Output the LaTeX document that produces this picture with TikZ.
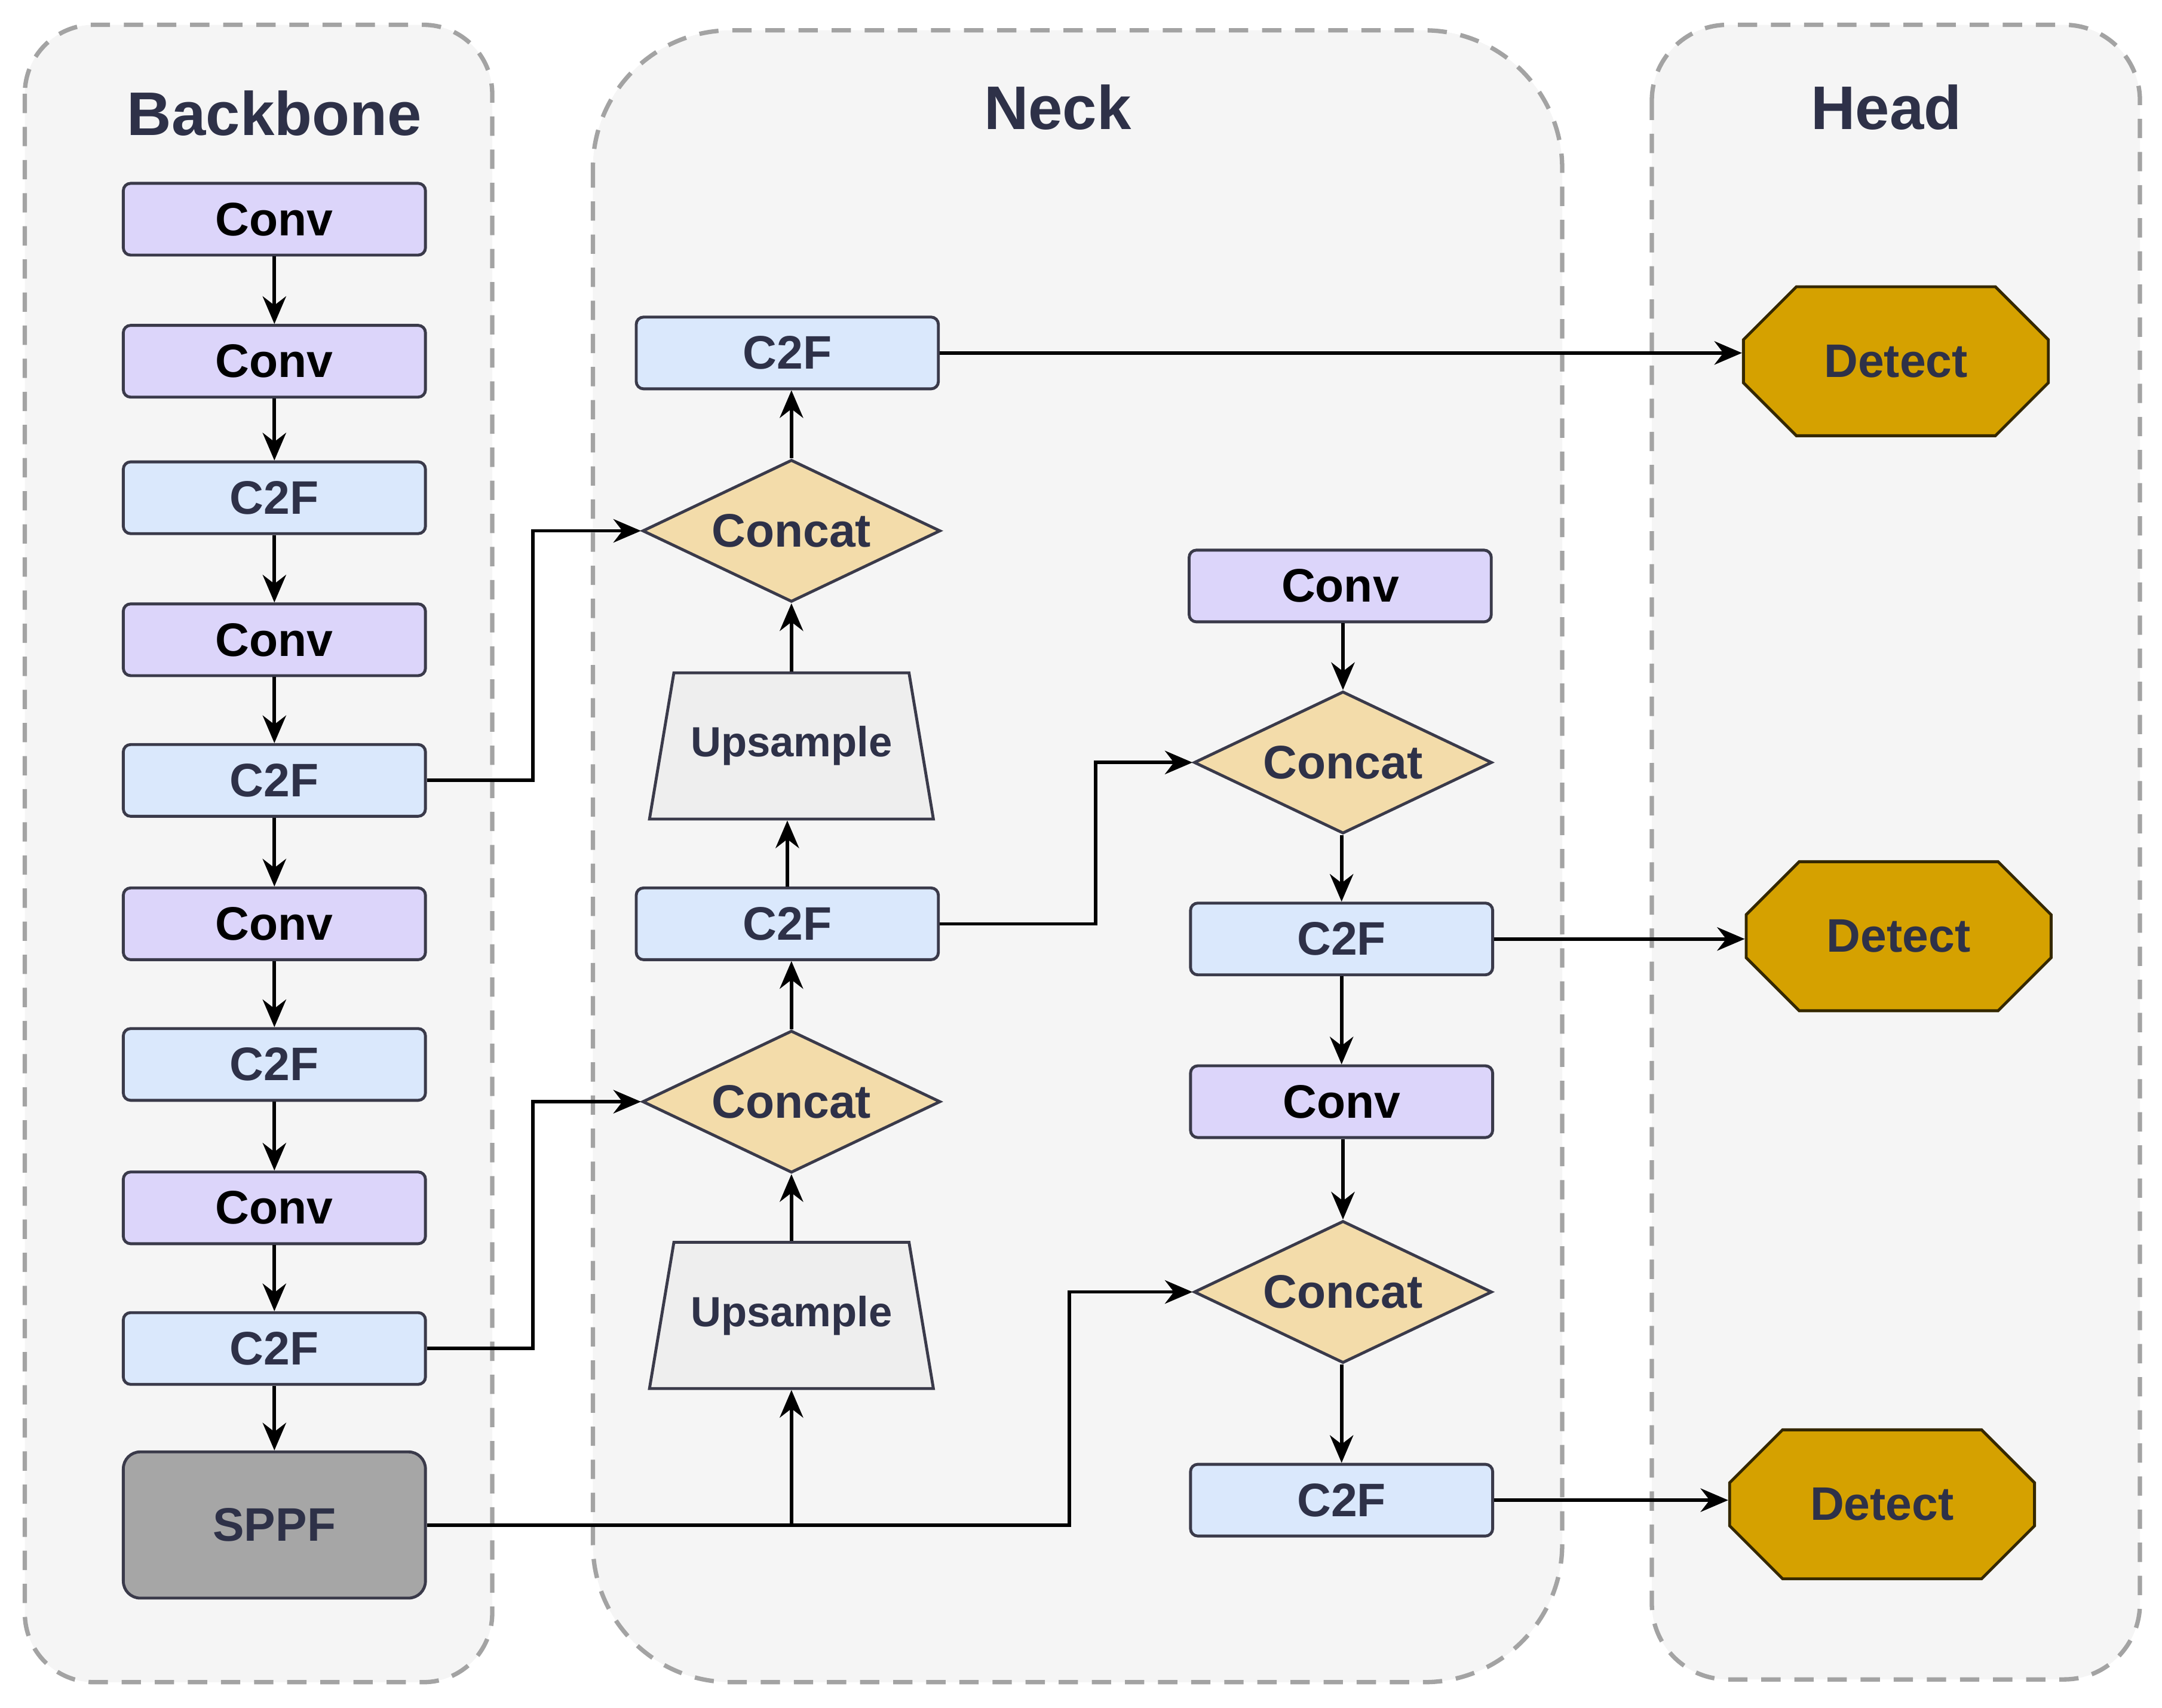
\documentclass[tikz,border=0pt]{standalone}
\usepackage{fontspec}
\setmainfont{Liberation Sans}
\usetikzlibrary{shapes.geometric,shapes.misc,arrows.meta}
\definecolor{pnlfill}{HTML}{F5F5F5}
\definecolor{pnldraw}{HTML}{A3A3A3}
\definecolor{convfill}{HTML}{DCD5FA}
\definecolor{cffill}{HTML}{DAE8FC}
\definecolor{catfill}{HTML}{F3DCAA}
\definecolor{upfill}{HTML}{EEEEEE}
\definecolor{sppffill}{HTML}{A6A6A6}
\definecolor{detfill}{HTML}{D5A100}
\definecolor{edge}{HTML}{3A3A4A}
\definecolor{txt}{HTML}{2E3148}
\newcommand{\pnl}[5]{
\draw[pnl,rounded corners=#5] (#1,#2) rectangle (#3,#4);}
\tikzset{
pnl/.style={fill=pnlfill,draw=pnldraw,line width=0.9pt,dash pattern=on 0.14cm off 0.1cm},
blk/.style={draw=edge,line width=0.6pt,text=txt,inner sep=0pt,font=\bfseries\fontsize{9.7}{11}\selectfont},
conv/.style={blk,fill=convfill,text=black,rounded corners=1.5pt,minimum width=2.19cm,minimum height=0.52cm},
cf/.style={blk,fill=cffill,rounded corners=1.5pt,minimum width=2.19cm,minimum height=0.52cm},
cat/.style={blk,fill=catfill,diamond,aspect=2.1,minimum width=2.16cm,minimum height=1.03cm},
up/.style={blk,fill=upfill,trapezium,trapezium left angle=62,trapezium right angle=62,trapezium stretches=true,minimum width=2.06cm,minimum height=1.06cm,font=\bfseries\fontsize{8.7}{10}\selectfont},
sppf/.style={blk,fill=sppffill,rounded corners=3.5pt,minimum width=2.19cm,minimum height=1.06cm},
det/.style={blk,fill=detfill,draw=black!75!detfill,chamfered rectangle,chamfered rectangle xsep=0.545cm,chamfered rectangle ysep=0.265cm,minimum width=2.21cm,minimum height=1.08cm},
ttl/.style={text=txt,font=\bfseries\fontsize{12.7}{14}\selectfont},
arr/.style={line width=0.7pt,-{Stealth[length=2mm,width=1.7mm]}}
}
\begin{document}
\begin{tikzpicture}[x=0.01cm,y=-0.01cm]
\useasboundingbox[fill=white] (0,0) rectangle (1568,1238.7);
\pnl{18}{18}{357}{1220}{0.5cm}
\pnl{430}{22}{1133}{1220}{1cm}
\pnl{1198}{18}{1552}{1218}{0.55cm}

\node[ttl] (tb) at (199,82) {Backbone};
\node[ttl] (tn) at (767,78) {Neck};
\node[ttl] (th) at (1368,78) {Head};

\foreach \n/\t/\s/\y in {b1/Conv/conv/159,b2/Conv/conv/262,b3/C2F/cf/361,b4/Conv/conv/464,b5/C2F/cf/566,b6/Conv/conv/670,b7/C2F/cf/772,b8/Conv/conv/876,b9/C2F/cf/978}{
	\node[\s] (\n) at (199,\y) {\t};
}
\node[sppf] (sp) at (199,1106) {SPPF};
\foreach \a/\b in {b1/b2,b2/b3,b3/b4,b4/b5,b5/b6,b6/b7,b7/b8,b8/b9,b9/sp}{
	\draw[arr] (\a.south) -- (\b.north);
}

\node[cf] (n1) at (571,256) {C2F};
\node[cat] (n2) at (574,385) {Concat};
\node[up] (n3) at (574,541) {Upsample};
\node[cf] (n4) at (571,670) {C2F};
\node[cat] (n5) at (574,799) {Concat};
\node[up] (n6) at (574,954) {Upsample};

\node[conv] (r1) at (972,425) {Conv};
\node[cat] (r2) at (974,553) {Concat};
\node[cf] (r3) at (973,681) {C2F};
\node[conv] (r4) at (973,799) {Conv};
\node[cat] (r5) at (974,937) {Concat};
\node[cf] (r6) at (973,1088) {C2F};

\node[det] (h1) at (1375,262) {Detect};
\node[det] (h2) at (1377,679) {Detect};
\node[det] (h3) at (1365,1091) {Detect};

\foreach \a/\b in {n6/n5,n5/n4,n4/n3,n3/n2,n2/n1}{
	\draw[arr] (\a.north) -- (\a.north |- \b.south);
}
\foreach \a/\b in {r1/r2,r2/r3,r3/r4,r4/r5,r5/r6}{
	\draw[arr] (\b.north |- \a.south) -- (\b.north);
}
\draw[arr] (b5.east) -- ++(77,0) |- (n2.west);
\draw[arr] (b9.east) -- ++(77,0) |- (n5.west);
\draw[arr] (sp.east) -- ++(466,0) |- (r5.west);
\draw[arr] (sp.east -| n6.south) -- (n6.south);
\draw[arr] (n4.east) -- ++(113,0) |- (r2.west);
\draw[arr] (n1.east) -- (n1.east -| h1.west);
\draw[arr] (r3.east) -- (r3.east -| h2.west);
\draw[arr] (r6.east) -- (r6.east -| h3.west);
\end{tikzpicture}
\end{document}
